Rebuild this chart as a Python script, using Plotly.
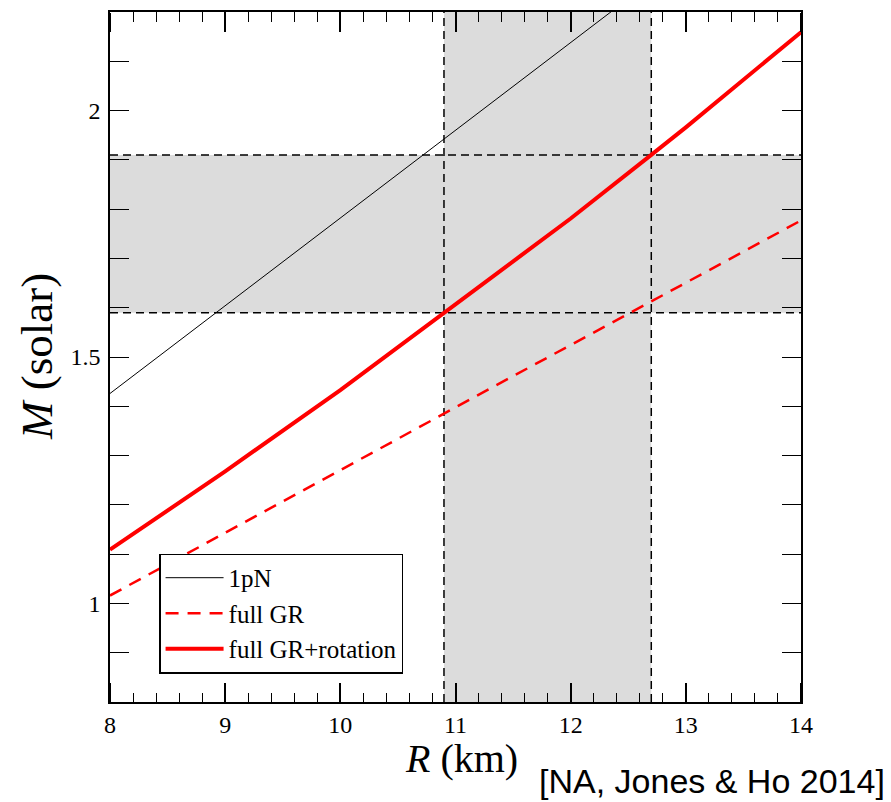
import plotly.graph_objects as go

# Data
R = [8, 9, 10, 10.9, 11, 12, 12.7, 13, 14]
M_1pN = [1.426, 1.604, 1.782, 1.942, 1.960, 2.138, 2.263, 2.316, 2.494]
M_fullGR = [1.016, 1.143, 1.269, 1.385, 1.398, 1.524, 1.612, 1.650, 1.777]
M_fullGR_rot = [1.109, 1.268, 1.433, 1.590, 1.606, 1.781, 1.910, 1.966, 2.159]

R_band = [10.9, 12.7]
M_band = [1.59, 1.91]

x_ticks = [8, 9, 10, 11, 12, 13, 14]
y_ticks = [1, 1.5, 2]

serif = "Liberation Serif"

fig = go.Figure()
fig.add_trace(go.Scatter(x=R, y=M_1pN, mode="lines", name="1pN",
                         line=dict(color="black", width=1)))
fig.add_trace(go.Scatter(x=R, y=M_fullGR, mode="lines", name="full GR",
                         line=dict(color="#ff0000", width=2.5, dash="13px,9px")))
fig.add_trace(go.Scatter(x=R, y=M_fullGR_rot, mode="lines", name="full GR+rotation",
                         line=dict(color="#ff0000", width=4)))

# shaded bands
fig.add_shape(type="rect", xref="x", yref="y", x0=R_band[0], x1=R_band[1], y0=0.8, y1=2.2,
              fillcolor="#dcdcdc", line=dict(width=0), layer="below")
fig.add_shape(type="rect", xref="x", yref="y", x0=8, x1=14, y0=M_band[0], y1=M_band[1],
              fillcolor="#dcdcdc", line=dict(width=0), layer="below")
for xv in R_band:
    fig.add_shape(type="line", xref="x", yref="y", x0=xv, x1=xv, y0=0.8, y1=2.2,
                  line=dict(color="black", width=1.5, dash="8px,5px"), layer="below")
for yv in M_band:
    fig.add_shape(type="line", xref="x", yref="y", x0=8, x1=14, y0=yv, y1=yv,
                  line=dict(color="black", width=1.5, dash="8px,5px"), layer="below")

fig.update_xaxes(range=[8, 14], tickmode="linear", tick0=8, dtick=1,
                 showgrid=False, zeroline=False, showline=True, linecolor="black", linewidth=1.5,
                 mirror="allticks", ticks="inside", ticklen=19, tickwidth=1.5, tickcolor="black",
                 tickfont=dict(family=serif, size=24, color="black"),
                 minor=dict(ticks="inside", ticklen=9, tick0=8, dtick=0.2,
                            tickcolor="black", tickwidth=1.3, showgrid=False))
fig.update_yaxes(range=[0.8, 2.2], tickvals=y_ticks, ticktext=["1", "1.5", "2"],
                 showgrid=False, zeroline=False, showline=True, linecolor="black", linewidth=1.5,
                 mirror="allticks", ticks="inside", ticklen=19, tickwidth=1.3, tickcolor="black",
                 tickfont=dict(family=serif, size=24, color="black"),
                 minor=dict(ticks="inside", ticklen=9, dtick=0.1, tick0=0.8,
                            tickcolor="black", tickwidth=1.2, showgrid=False),
                 ticklabelstandoff=3)

# extra tick-only axes whose "outside" ticks point into the plot from the top and bottom edges
tick_axis = dict(overlaying="x", anchor="free", range=[8, 14], tickmode="linear", tick0=8, dtick=1,
                 showticklabels=False, showgrid=False, zeroline=False, showline=False,
                 ticks="outside", ticklen=19, tickwidth=1.5, tickcolor="black",
                 minor=dict(ticks="outside", ticklen=9, tick0=8, dtick=0.2,
                            tickcolor="black", tickwidth=1.3, showgrid=False))
fig.update_layout(xaxis2=dict(side="bottom", position=1, **tick_axis),
                  xaxis3=dict(side="top", position=0, **tick_axis))
for ax in ["x2", "x3"]:
    fig.add_trace(go.Scatter(x=R, y=M_fullGR_rot, xaxis=ax, yaxis="y", mode="lines",
                             showlegend=False, hoverinfo="skip", opacity=0,
                             line=dict(width=0.5, color="rgba(0,0,0,0)")))

# axis titles
fig.add_annotation(text="<i>R</i> (km)", xref="paper", yref="paper",
                   x=0.509, y=-0.082, xanchor="center", yanchor="middle", showarrow=False,
                   font=dict(family=serif, size=40, color="black"))
fig.add_annotation(text="<i>M</i> (solar)", xref="paper", yref="paper", textangle=-90,
                   x=-0.1056, y=0.5, xanchor="center", yanchor="middle", showarrow=False,
                   font=dict(family=serif, size=45, color="black"))

fig.add_annotation(text="[NA, Jones & Ho 2014]", xref="paper", yref="paper",
                   x=1.1245, y=-0.115, xanchor="right", yanchor="middle", showarrow=False,
                   font=dict(family="Liberation Sans", size=34, color="black"))

fig.update_layout(
    width=891, height=802,
    margin=dict(l=110, r=90, t=10, b=100),
    plot_bgcolor="white", paper_bgcolor="white",
    legend=dict(x=0.0713, y=0.215, xanchor="left", yanchor="top",
                bgcolor="white", bordercolor="black", borderwidth=1.3,
                font=dict(family=serif, size=25, color="black"),
                tracegroupgap=0, itemwidth=58),
)

fig.write_html("out.html", config={"displayModeBar": False},
               post_script="document.body.style.margin='0';document.body.style.overflow='hidden';")
